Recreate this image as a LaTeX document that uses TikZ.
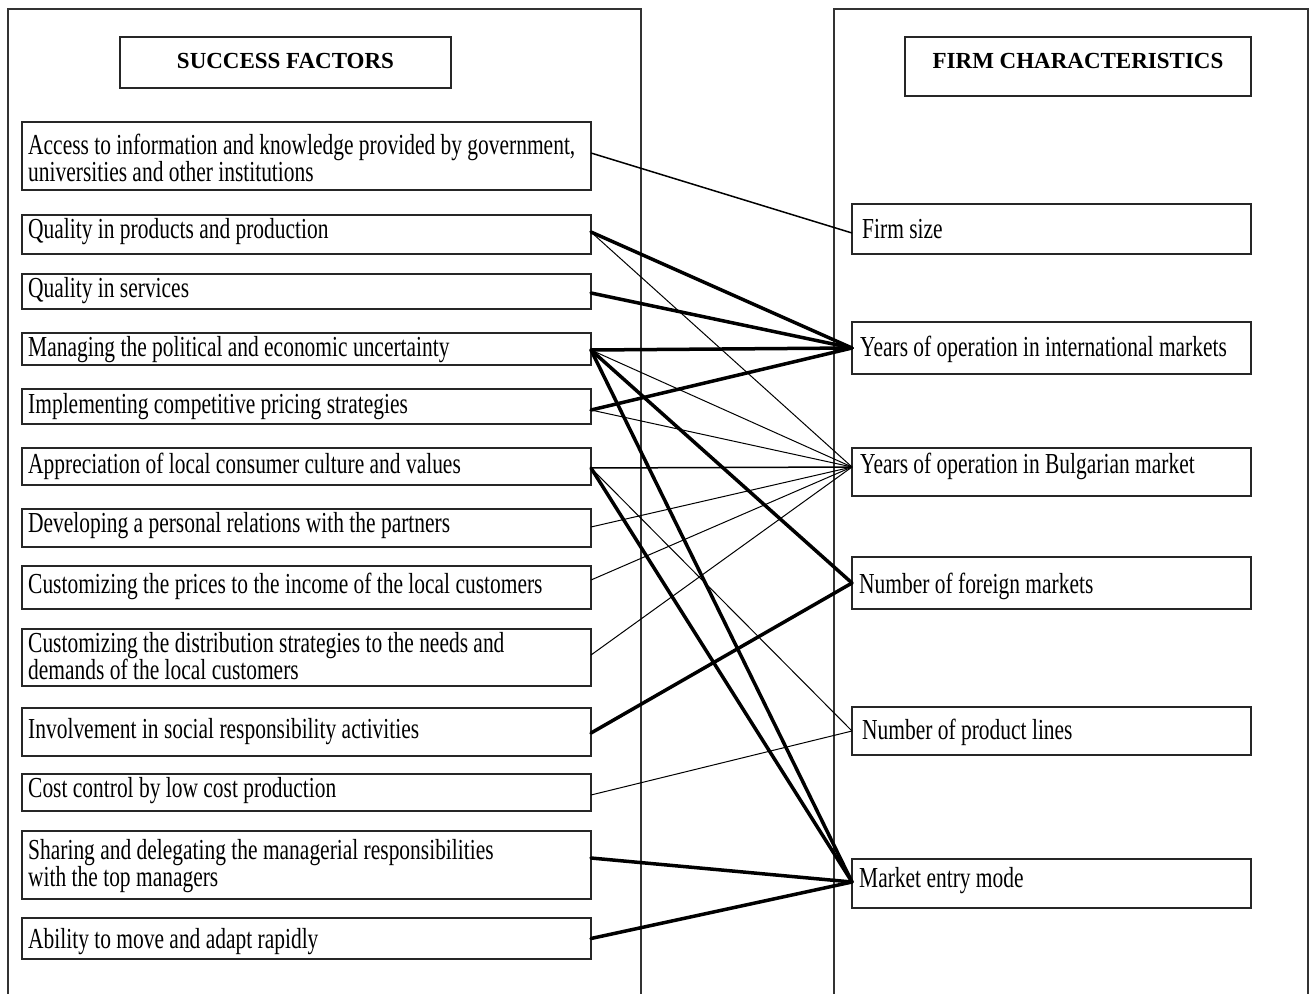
\documentclass[tikz,border=0pt]{standalone}
\usepackage{fontspec}
\setmainfont{Liberation Serif}[FakeStretch=0.74]
\newfontfamily\headfont{Liberation Serif}
\begin{document}
\begin{tikzpicture}[x=1pt,y=-1pt,
  box/.style={draw=black!85, line width=1.5pt, inner sep=0pt, outer sep=0pt, anchor=north west},
  txt/.style={inner sep=0pt, anchor=base west, font=\fontsize{29}{27}\selectfont, align=left},
  head/.style={inner sep=0pt, anchor=base, font=\headfont\bfseries\fontsize{23}{27}\selectfont},
  lnthick/.style={line width=3.5pt, line cap=round},
  lnthin/.style={line width=1pt},
  lnmid/.style={line width=1.5pt},
  frame/.style={line width=1.8pt, draw=black!80}]
\useasboundingbox (0,0) rectangle (1314,993);
\fill[white] (0,0) rectangle (1314,993);
% outer frames
\draw[frame] (8,1000) -- (8,9) -- (641,9) -- (641,1000);
\draw[frame] (834,1000) -- (834,9) -- (1308,9) -- (1308,1000);
% titles
\node[box, minimum width=331pt, minimum height=51pt] (h1) at (120,37) {};
\node[head] (h1t) at (285.5,68) {SUCCESS FACTORS};
\node[box, minimum width=346pt, minimum height=59pt] (h2) at (905,37) {};
\node[head] (h2t) at (1078,68) {FIRM CHARACTERISTICS};
% success factor boxes
\node[box, minimum width=569pt, minimum height=68pt] (f1) at (22,122) {};
\node[box, minimum width=569pt, minimum height=39pt] (f2) at (22,215) {};
\node[box, minimum width=569pt, minimum height=35pt] (f3) at (22,274) {};
\node[box, minimum width=569pt, minimum height=32pt] (f4) at (22,333) {};
\node[box, minimum width=569pt, minimum height=35pt] (f5) at (22,389) {};
\node[box, minimum width=569pt, minimum height=37pt] (f6) at (22,448) {};
\node[box, minimum width=569pt, minimum height=38pt] (f7) at (22,509) {};
\node[box, minimum width=569pt, minimum height=43pt] (f8) at (22,566) {};
\node[box, minimum width=569pt, minimum height=57pt] (f9) at (22,629) {};
\node[box, minimum width=569pt, minimum height=48pt] (f10) at (22,708) {};
\node[box, minimum width=569pt, minimum height=37pt] (f11) at (22,774) {};
\node[box, minimum width=569pt, minimum height=68pt] (f12) at (22,831) {};
\node[box, minimum width=569pt, minimum height=41pt] (f13) at (22,918) {};
\node[txt] (f1t) at (28,181) {Access to information and knowledge provided by government,\\universities and other institutions};
\node[txt] (f2t) at (28,238) {Quality in products and production};
\node[txt] (f3t) at (28,297) {Quality in services};
\node[txt] (f4t) at (28,356) {Managing the political and economic uncertainty};
\node[txt] (f5t) at (28,413) {Implementing competitive pricing strategies};
\node[txt] (f6t) at (28,473) {Appreciation of local consumer culture and values};
\node[txt] (f7t) at (28,532) {Developing a personal relations with the partners};
\node[txt] (f8t) at (28,593) {Customizing the prices to the income of the local customers};
\node[txt] (f9t) at (28,679) {Customizing the distribution strategies to the needs and\\demands of the local customers};
\node[txt] (f10t) at (28,738) {Involvement in social responsibility activities};
\node[txt] (f11t) at (28,797) {Cost control by low cost production};
\node[txt] (f12t) at (28,886) {Sharing and delegating the managerial responsibilities\\with the top managers};
\node[txt] (f13t) at (28,948) {Ability to move and adapt rapidly};
% firm characteristic boxes
\node[box, minimum width=399pt, minimum height=50pt] (c1) at (852,204) {};
\node[box, minimum width=399pt, minimum height=52pt] (c2) at (852,322) {};
\node[box, minimum width=399pt, minimum height=48pt] (c3) at (852,448) {};
\node[box, minimum width=399pt, minimum height=52pt] (c4) at (852,557) {};
\node[box, minimum width=399pt, minimum height=48pt] (c5) at (852,707) {};
\node[box, minimum width=399pt, minimum height=49pt] (c6) at (852,859) {};
\node[txt] (c1t) at (862,238) {Firm size};
\node[txt] (c2t) at (860,356) {Years of operation in international markets};
\node[txt] (c3t) at (860,473) {Years of operation in Bulgarian market};
\node[txt] (c4t) at (859,593) {Number of foreign markets};
\node[txt] (c5t) at (862,739) {Number of product lines};
\node[txt] (c6t) at (859,887) {Market entry mode};
% connector ends
\coordinate (f1p) at ([yshift=3pt]f1.east);
\coordinate (f2p) at ([yshift=2.5pt]f2.east);
\coordinate (f3p) at ([yshift=-1.5pt]f3.east);
\coordinate (f4p) at ([yshift=-1pt]f4.east);
\coordinate (f5p) at ([yshift=-3.5pt]f5.east);
\coordinate (f6p) at ([yshift=-1.5pt]f6.east);
\coordinate (f7p) at ([yshift=1pt]f7.east);
\coordinate (f8p) at ([yshift=7.5pt]f8.east);
\coordinate (f9p) at ([yshift=2.5pt]f9.east);
\coordinate (f10p) at ([yshift=-1pt]f10.east);
\coordinate (f11p) at ([yshift=-2.5pt]f11.east);
\coordinate (f12p) at ([yshift=7pt]f12.east);
\coordinate (f13p) at (f13.east);
\coordinate (c1p) at ([yshift=-4pt]c1.west);
\coordinate (c2p) at (c2.west);
\coordinate (c3p) at ([yshift=5pt]c3.west);
\coordinate (c4p) at (c4.west);
\coordinate (c5p) at (c5.west);
\coordinate (c6p) at ([yshift=1.5pt]c6.west);
% connectors
\draw[lnmid] (f1p) -- (c1p);
\draw[lnthin] (f2p) -- (c3p);
\draw[lnthin] (f4p) -- (c3p);
\draw[lnthin] (f5p) -- (c3p);
\draw[lnmid] (f6p) -- (c3p);
\draw[lnthin] (f6p) -- (c5p);
\draw[lnthin] (f7p) -- (c3p);
\draw[lnthin] (f8p) -- (c3p);
\draw[lnthin] (f9p) -- (c3p);
\draw[lnthin] (f11p) -- (c5p);
\draw[lnthick] (f2p) -- (c2p);
\draw[lnthick] (f3p) -- (c2p);
\draw[lnthick] (f4p) -- (c2p);
\draw[lnthick] (f5p) -- (c2p);
\draw[lnthick] (f4p) -- (c4p);
\draw[lnthick] (f4p) -- (c6p);
\draw[lnthick] (f6p) -- (c6p);
\draw[lnthick] (f10p) -- (c4p);
\draw[lnthick] (f12p) -- (c6p);
\draw[lnthick] (f13p) -- (c6p);
\end{tikzpicture}
\end{document}
